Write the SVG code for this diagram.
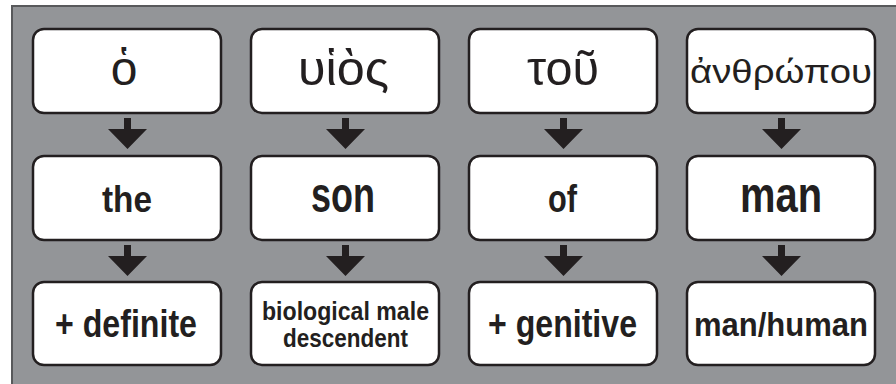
<svg xmlns="http://www.w3.org/2000/svg" width="896" height="384" viewBox="0 0 896 384">
<style>
.box{fill:#fff;stroke:#231f20;stroke-width:2.5}
.g{font-family:"Liberation Sans","DejaVu Sans",sans-serif;fill:#231f20;text-anchor:middle}
.b{font-family:"Liberation Sans","DejaVu Sans",sans-serif;font-weight:bold;fill:#231f20;text-anchor:middle}
.arr{fill:#231f20}
</style>
<defs>
<path id="arrowA" d="M-3.5,0 H3.5 V11 H19.5 L0,31 L-19.5,11 H-3.5 Z"/>
</defs>
<rect x="12" y="6" width="900" height="400" fill="#939598" stroke="#58595b" stroke-width="2"/>
<g id="connectors" class="arr">
<use href="#arrowA" x="127.5" y="118"/>
<use href="#arrowA" x="345.5" y="118"/>
<use href="#arrowA" x="563.5" y="118"/>
<use href="#arrowA" x="781.5" y="118"/>
<use href="#arrowA" x="127.5" y="245"/>
<use href="#arrowA" x="345.5" y="245"/>
<use href="#arrowA" x="563.5" y="245"/>
<use href="#arrowA" x="781.5" y="245"/>
</g>
<g id="n-ho"><rect class="box" x="33" y="29" width="188" height="84" rx="11"/><text class="g" x="124" y="85" font-size="48">ὁ</text></g>
<g id="n-huios"><rect class="box" x="251" y="29" width="188" height="84" rx="11"/><text class="g" x="343.5" y="85" font-size="48" textLength="91" lengthAdjust="spacingAndGlyphs">υἱὸς</text></g>
<g id="n-tou"><rect class="box" x="469" y="29" width="188" height="84" rx="11"/><text class="g" x="563" y="85" font-size="48" textLength="72" lengthAdjust="spacingAndGlyphs">τοῦ</text></g>
<g id="n-anthropou"><rect class="box" x="687" y="29" width="188" height="84" rx="11"/><text class="g" x="781" y="83" font-size="33" textLength="182" lengthAdjust="spacingAndGlyphs">ἀνθρώπου</text></g>
<g id="n-the"><rect class="box" x="33" y="156" width="188" height="84" rx="11"/><text class="b" x="127" y="212" font-size="36" textLength="50" lengthAdjust="spacingAndGlyphs">the</text></g>
<g id="n-son"><rect class="box" x="251" y="156" width="188" height="84" rx="11"/><text class="b" x="343" y="212" font-size="50" textLength="64" lengthAdjust="spacingAndGlyphs">son</text></g>
<g id="n-of"><rect class="box" x="469" y="156" width="188" height="84" rx="11"/><text class="b" x="562.5" y="212" font-size="38" textLength="29" lengthAdjust="spacingAndGlyphs">of</text></g>
<g id="n-man"><rect class="box" x="687" y="156" width="188" height="84" rx="11"/><text class="b" x="781" y="212" font-size="50" textLength="82" lengthAdjust="spacingAndGlyphs">man</text></g>
<g id="n-definite"><rect class="box" x="33" y="282" width="188" height="83" rx="11"/><text class="b" x="126" y="337" font-size="38" textLength="142" lengthAdjust="spacingAndGlyphs">+ definite</text></g>
<g id="n-biological"><rect class="box" x="251" y="282" width="188" height="83" rx="11"/><text class="b" x="345.5" y="320" font-size="25" textLength="167" lengthAdjust="spacingAndGlyphs">biological male</text><text class="b" x="345.5" y="347" font-size="25" textLength="125" lengthAdjust="spacingAndGlyphs">descendent</text></g>
<g id="n-genitive"><rect class="box" x="469" y="282" width="188" height="83" rx="11"/><text class="b" x="562.5" y="337" font-size="38" textLength="149" lengthAdjust="spacingAndGlyphs">+ genitive</text></g>
<g id="n-human"><rect class="box" x="687" y="282" width="188" height="83" rx="11"/><text class="b" x="781" y="336" font-size="34" textLength="174" lengthAdjust="spacingAndGlyphs">man/human</text></g>
</svg>
